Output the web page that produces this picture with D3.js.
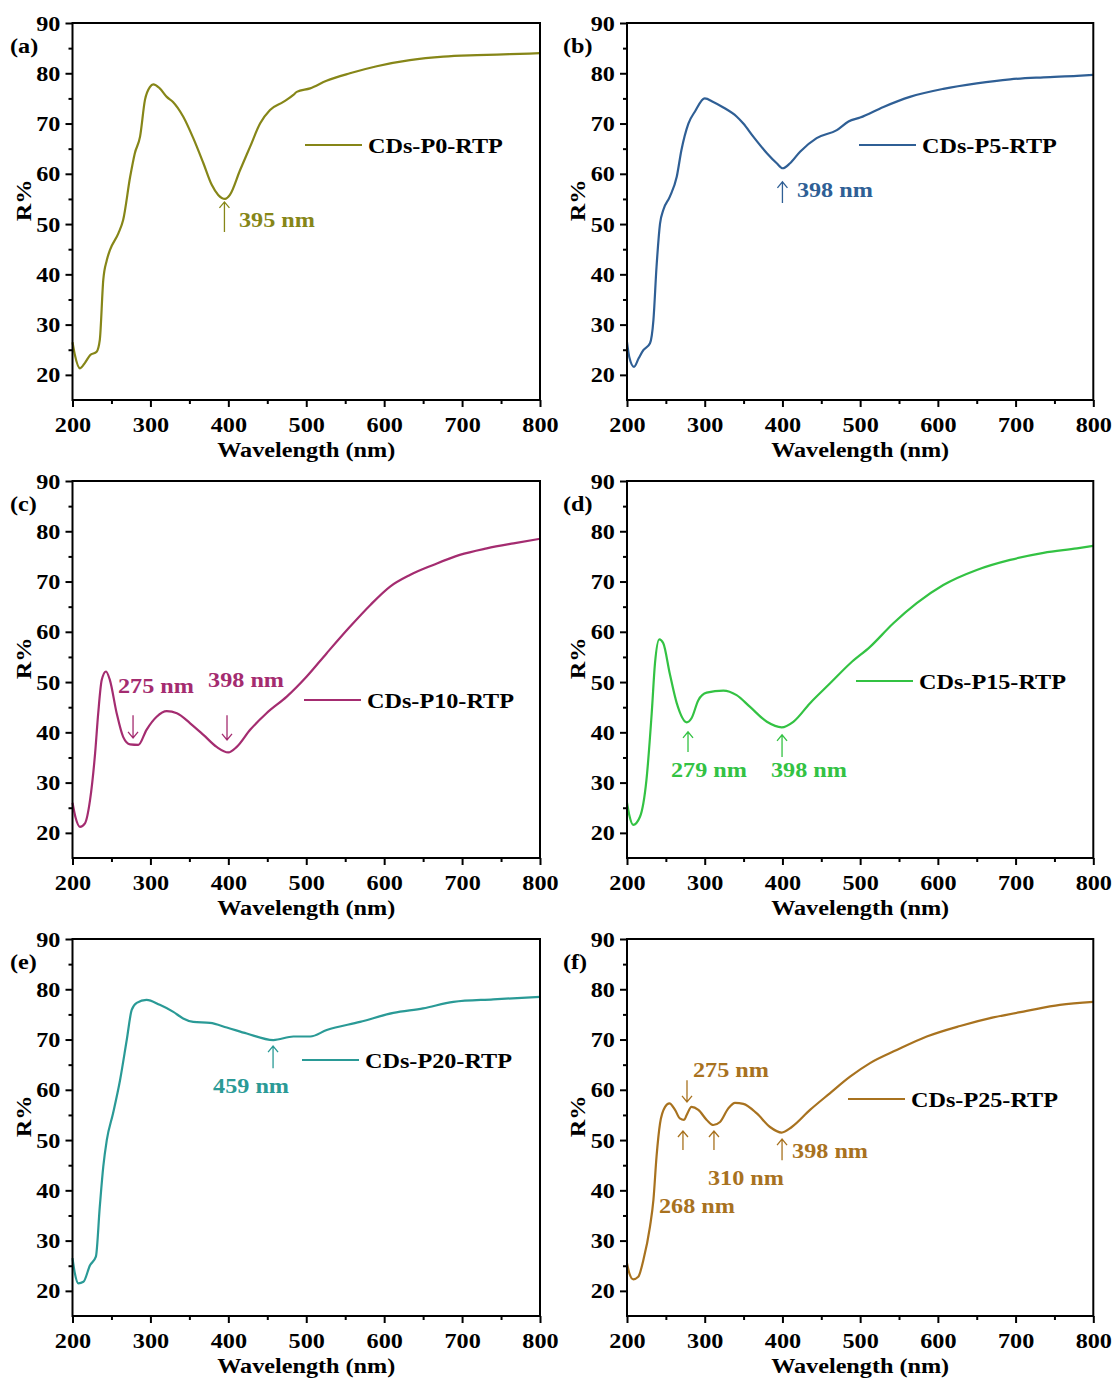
<!DOCTYPE html>
<html><head><meta charset="utf-8">
<script src="https://cdn.jsdelivr.net/npm/d3@7/dist/d3.min.js"></script>
<style>html,body{margin:0;padding:0;background:#fff;}svg{display:block;}</style>
</head><body>
<svg id="chart" width="1116" height="1379"></svg>
<script>
// ---------------- data (wavelength nm, reflectance %) ----------------
const xTicks = [200, 300, 400, 500, 600, 700, 800];
const yTicks = [20, 30, 40, 50, 60, 70, 80, 90];
const panelTags = ["(a)", "(b)", "(c)", "(d)", "(e)", "(f)"];
const seriesNames = ["CDs-P0-RTP", "CDs-P5-RTP", "CDs-P10-RTP", "CDs-P15-RTP", "CDs-P20-RTP", "CDs-P25-RTP"];

const p0 = [[200,26.5],[203,24],[209.6,21.3],[216,22.4],[222.5,23.9],[231,24.6],[235,26.9],[239.5,38.9],[244,42.8],[248,44.8],[259,48.2],[265,50.8],[274,59.4],[280,64.1],[286.7,67.4],[293,74.7],[299.5,77.3],[303.7,77.8],[312,77.0],[321,75.3],[329,74.3],[342,71.4],[355,67.1],[368,62.1],[378.7,57.8],[387,55.8],[395.8,55.0],[402,55.8],[415,60.7],[428,65.4],[440.7,70.0],[453.5,72.7],[470.6,74.3],[483.5,75.7],[487.8,76.3],[505,77.0],[526,78.5],[556,80.0],[590.5,81.4],[633,82.6],[676,83.3],[719,83.6],[761.6,83.8],[800,84.0]];
const p5 = [[200,26.5],[203,23.5],[209,21.6],[215,23.3],[221,24.9],[229.6,26.3],[234,30.9],[238,41.5],[242.5,50.1],[246.7,52.8],[255,55.4],[264,59.4],[270,64.7],[279,70.0],[287.5,72.4],[300,75.0],[311,74.3],[324,73.2],[341,71.4],[349.7,70.0],[362.5,67.4],[380,64.1],[392.7,62.1],[400.4,61.1],[409.8,62.1],[422.7,64.4],[444,67.1],[470,68.7],[485,70.4],[500,71.2],[530,73.3],[564,75.3],[607,76.9],[650,78.0],[693,78.8],[736,79.2],[779,79.5],[800,79.7]];
const p10 = [[200,26.0],[204,23.0],[209.6,21.2],[216,21.9],[222.5,26.5],[229,35.8],[233,43.8],[237.5,50.4],[243,52.1],[248,50.4],[256.7,43.8],[265,39.1],[273.8,37.6],[284.5,37.5],[295,40.5],[308,43.1],[321,44.2],[334,43.8],[351,41.8],[368,39.5],[385,37.1],[400,36.0],[410.8,37.1],[428,40.5],[449,43.8],[475,47.1],[500.6,51.1],[526,55.7],[556,61.0],[582,65.3],[607.6,69.0],[633,71.3],[663,73.3],[697,75.3],[731.7,76.6],[766,77.6],[800,78.5]];
const p15 = [[200,26.0],[203,23.5],[208,21.6],[216.7,23.2],[225,30.5],[231.8,43.8],[236,53.7],[241.6,58.5],[246.7,57.7],[255,51.7],[264,45.8],[276.8,42.0],[283,42.8],[291.8,46.4],[302.5,47.9],[324,48.3],[341,47.4],[358,45.1],[380,42.1],[399,41.0],[414,42.1],[435.5,45.8],[461,49.7],[487,53.7],[512.7,57.0],[542.7,61.7],[572.8,65.7],[607,69.3],[650,72.3],[693,74.3],[736,75.7],[779,76.6],[800,77.1]];
const p20 = [[200,26.5],[203,23.5],[207.5,21.5],[214,21.8],[222.5,25.1],[230,26.8],[235,36.7],[239.5,44.7],[244,50.0],[252,55.3],[261,61.9],[269.6,69.9],[276,75.9],[282.4,77.3],[295,77.9],[312,76.9],[329.4,75.5],[342,74.2],[355,73.5],[376.5,73.3],[398,72.4],[423.6,71.2],[457.8,69.9],[483.5,70.6],[505,70.6],[526.3,71.9],[569,73.5],[611.8,75.3],[650,76.2],[688.8,77.5],[740,78.0],[800,78.5]];
const p25 = [[200,25.5],[203,23.5],[208,22.3],[214.5,22.8],[221,26.1],[229.6,32.8],[234,38.1],[238,46.7],[242.5,53.3],[249,56.6],[254.5,57.3],[261.8,56.0],[268,54.3],[273.4,54.0],[276.8,55.0],[283,56.6],[291.8,56.0],[302.6,54.0],[311,53.0],[319.7,53.6],[330.4,56.3],[339,57.4],[349.7,57.2],[367,55.3],[384,52.6],[399,51.5],[412,52.6],[435.5,56.0],[461,59.3],[487,62.6],[512.7,65.3],[547,67.9],[585.7,70.6],[628.6,72.7],[671.4,74.4],[714.4,75.7],[757,76.9],[800,77.5]];
const seriesData = [p0, p5, p10, p15, p20, p25];
const seriesColors = ["#868618", "#2f5f95", "#a42c70", "#33c243", "#2a9a96", "#a8721f"];

// annotations: arrows (wavelength, from R, to R) and labels (text, wavelength, R at baseline)
const arrowsA = [[395, 48.4, 54.4]];
const labelsA = [["↑", 0, 0]].slice(1).concat([["395 nm", 413.7, 49.4]]);
const arrowsB = [[400, 54.2, 58.4]];
const labelsB = [["398 nm", 418.6, 55.4]];
const arrowsC = [[277.7, 43.4, 38.9], [398.3, 43.4, 38.5]];
const labelsC = [["275 nm", 258.4, 47.8], ["398 nm", 374, 49.0]];
const arrowsD = [[278.5, 36.1, 40.1], [399.5, 35.1, 39.5]];
const labelsD = [["279 nm", 256.6, 31.1], ["398 nm", 385.3, 31.1]];
const arrowsE = [[457.4, 64.3, 68.7]];
const labelsE = [["459 nm", 380.4, 59.4]];
const arrowsF = [[277.2, 61.9, 57.6], [272, 48.0, 51.8], [311.9, 48.0, 51.8], [399.5, 46.0, 50.2]];
const labelsF = [["275 nm", 284.9, 62.5], ["310 nm", 304.2, 41.1], ["268 nm", 241.2, 35.5], ["398 nm", 412.4, 46.4]];
const arrowSets = [arrowsA, arrowsB, arrowsC, arrowsD, arrowsE, arrowsF];
const labelSets = [labelsA, labelsB, labelsC, labelsD, labelsE, labelsF];

// ---------------- layout ----------------
const FONT = "'Liberation Serif','Times New Roman',serif";
const SX = 1.1;
const colLeft = [72.5, 627];
const colWidth = [467.5, 466.3];
const rowTop = [23, 481, 939];
const plotH = 377;
const legendPos = [[232.5,122],[232,122],[231.5,219],[229,200],[229.5,121],[221,160]];

const svg = d3.select("#chart");

function addText(g, x, y, str, anchor, size, color, rotate) {
  return g.append("text")
    .attr("transform", `translate(${x},${y})` + (rotate ? ` rotate(${rotate})` : "") + ` scale(${SX},1)`)
    .attr("text-anchor", anchor)
    .attr("font-family", FONT).attr("font-weight", "bold")
    .attr("font-size", size).attr("fill", color)
    .text(str);
}

for (let i = 0; i < 6; i++) {
  const col = i % 2, row = Math.floor(i / 2);
  const L = colLeft[col], T = rowTop[row], W = colWidth[col];
  const g = svg.append("g").attr("transform", `translate(${L},${T})`);
  const x = d3.scaleLinear().domain([200, 800]).range([0, W]);
  const y = d3.scaleLinear().domain([15, 90]).range([plotH, 0]);
  const color = seriesColors[i];

  // minor ticks
  g.append("g").attr("transform", `translate(0,${plotH})`)
    .call(d3.axisBottom(x).tickValues(d3.range(250, 800, 100)).tickSize(4).tickFormat(""))
    .call(a => a.select(".domain").remove())
    .call(a => a.selectAll("line").attr("stroke-width", 2));
  g.append("g")
    .call(d3.axisLeft(y).tickValues(d3.range(25, 90, 10)).tickSize(4).tickFormat(""))
    .call(a => a.select(".domain").remove())
    .call(a => a.selectAll("line").attr("stroke-width", 2));
  // major ticks
  g.append("g").attr("transform", `translate(0,${plotH})`)
    .call(d3.axisBottom(x).tickValues(xTicks).tickSize(7).tickPadding(9).tickFormat(d3.format("d")))
    .call(a => a.select(".domain").remove())
    .call(a => a.selectAll("line").attr("stroke-width", 2))
    .call(a => a.selectAll("text").attr("font-family", FONT).attr("font-weight", "bold")
      .attr("font-size", 22).attr("fill", "#000").attr("transform", `scale(${SX},1)`));
  g.append("g")
    .call(d3.axisLeft(y).tickValues(yTicks).tickSize(7).tickPadding(4).tickFormat(d3.format("d")))
    .call(a => a.select(".domain").remove())
    .call(a => a.selectAll("line").attr("stroke-width", 2))
    .call(a => a.selectAll("text").attr("font-family", FONT).attr("font-weight", "bold")
      .attr("font-size", 22).attr("fill", "#000").attr("transform", `scale(${SX},1)`));

  // curve
  const line = d3.line().x(d => x(d[0])).y(d => y(d[1])).curve(d3.curveMonotoneX);
  g.append("path").datum(seriesData[i]).attr("d", line)
    .attr("fill", "none").attr("stroke", color).attr("stroke-width", 2.2)
    .attr("stroke-linejoin", "round");

  // frame
  g.append("rect").attr("x", 0).attr("y", 0).attr("width", W).attr("height", plotH)
    .attr("fill", "none").attr("stroke", "#000").attr("stroke-width", 2);

  // axis titles
  addText(g, W / 2, plotH + 57, "Wavelength (nm)", "middle", 22, "#000");
  addText(g, -42, plotH / 2 - 11, "R%", "middle", 22, "#000", -90);
  // panel tag
  addText(g, col === 0 ? -62.5 : -64, 30, panelTags[i], "start", 22, "#000");

  // legend
  const [lx, ly] = legendPos[i];
  g.append("line").attr("x1", lx).attr("x2", lx + 57).attr("y1", ly).attr("y2", ly)
    .attr("stroke", color).attr("stroke-width", 2.2);
  addText(g, lx + 63, ly + 8, seriesNames[i], "start", 22, "#000");

  // annotation arrows
  arrowSets[i].forEach(([wl, r0, r1]) => {
    const ax = x(wl), y0 = y(r0), y1 = y(r1);
    const dir = y1 < y0 ? 1 : -1; // head pointing up => +1
    const h = 6;
    g.append("path")
      .attr("d", `M${ax},${y0}L${ax},${y1}M${ax - 5},${y1 + dir * h}L${ax},${y1}L${ax + 5},${y1 + dir * h}`)
      .attr("fill", "none").attr("stroke", color).attr("stroke-width", 1.3);
  });
  labelSets[i].forEach(([t, wl, r]) => {
    addText(g, x(wl), y(r), t, "start", 22, color);
  });
}
</script>
</body></html>
